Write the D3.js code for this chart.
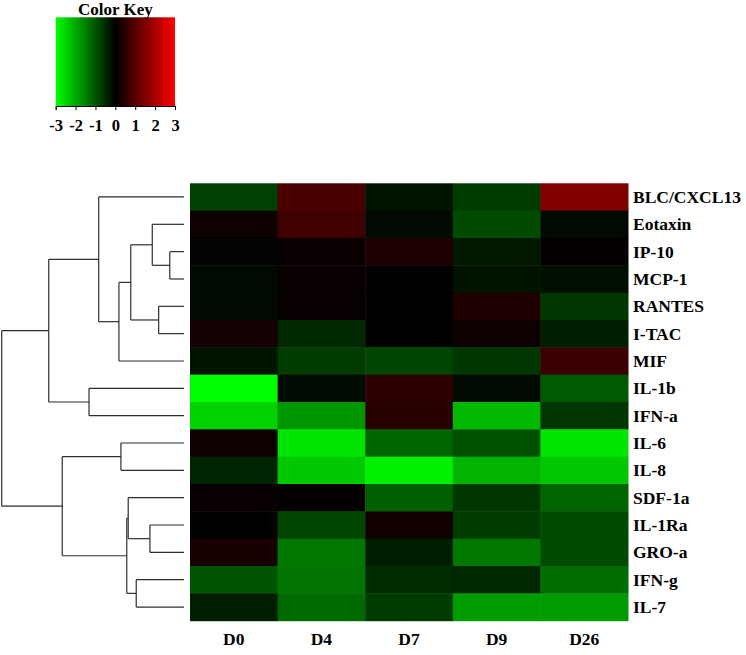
<!DOCTYPE html>
<html>
<head>
<meta charset="utf-8">
<script src="https://cdn.jsdelivr.net/npm/d3@7"></script>
<style>
  body { margin: 0; background: #fff; }
  svg { display: block; }
  text { font-family: "Liberation Serif", "Times New Roman", serif; font-weight: bold; fill: #000; }
</style>
</head>
<body>
<svg></svg>
<script>
const width = 746;
const height = 655;

// columns (time points) and rows (cytokines), in the order drawn
const days = ['D0', 'D4', 'D7', 'D9', 'D26'];
const cytokines = [
	'BLC/CXCL13', 'Eotaxin', 'IP-10', 'MCP-1', 'RANTES', 'I-TAC', 'MIF',
	'IL-1b', 'IFN-a', 'IL-6', 'IL-8', 'SDF-1a', 'IL-1Ra', 'GRO-a', 'IFN-g', 'IL-7'
];

// row z-scores, one array per column
const valD0  = [-0.75, 0.18, -0.03, -0.12, -0.12, 0.24, -0.24, -3.00, -2.47, 0.18, -0.41, 0.09, 0.03, 0.29, -1.00, -0.35];
const valD4  = [0.88, 0.76, 0.09, 0.09, 0.09, -0.47, -0.70, -0.12, -1.76, -2.70, -2.35, 0.05, -0.82, -1.41, -1.35, -1.24];
const valD7  = [-0.24, -0.12, 0.35, 0.02, 0.00, 0.00, -0.82, 0.53, 0.47, -1.18, -2.82, -1.12, 0.20, -0.35, -0.53, -0.70];
const valD9  = [-0.70, -0.88, -0.29, -0.24, 0.35, 0.18, -0.65, -0.12, -2.18, -0.94, -2.12, -0.65, -0.70, -1.41, -0.47, -1.82];
const valD26 = [1.50, -0.12, 0.05, -0.18, -0.65, -0.35, 0.70, -1.06, -0.65, -2.70, -2.35, -1.18, -0.88, -0.88, -1.29, -1.82];
const columnValues = [valD0, valD4, valD7, valD9, valD26];

// colour key
const keyTicks = [-3, -2, -1, 0, 1, 2, 3];

// row dendrogram: merge heights (leaf = 0)
const rowTree = { h: 10.0, children: [
	{ h: 7.42, children: [
		{ h: 4.68, children: [
			{ name: 'BLC/CXCL13' },
			{ h: 3.57, children: [
				{ h: 2.92, children: [
					{ h: 1.74, children: [
						{ name: 'Eotaxin' },
						{ h: 0.78, children: [{ name: 'IP-10' }, { name: 'MCP-1' }] }
					] },
					{ h: 1.39, children: [{ name: 'RANTES' }, { name: 'I-TAC' }] }
				] },
				{ name: 'MIF' }
			] }
		] },
		{ h: 5.21, children: [{ name: 'IL-1b' }, { name: 'IFN-a' }] }
	] },
	{ h: 6.68, children: [
		{ h: 3.46, children: [{ name: 'IL-6' }, { name: 'IL-8' }] },
		{ h: 3.14, children: [
			{ h: 3.06, children: [
				{ name: 'SDF-1a' },
				{ h: 1.87, children: [{ name: 'IL-1Ra' }, { name: 'GRO-a' }] }
			] },
			{ h: 2.62, children: [{ name: 'IFN-g' }, { name: 'IL-7' }] }
		] }
	] }
] };

const svg = d3.select('svg')
	.attr('width', width)
	.attr('height', height);

const color = d3.scaleLinear()
	.domain([-3, 0, 3])
	.range(['#00ff00', '#000000', '#ff0000'])
	.clamp(true);

// heatmap
const heat = { left: 190, right: 628, top: 183.3, bottom: 620.7 };

const xScale = d3.scaleBand()
	.domain(days)
	.range([heat.left, heat.right]);

const yScale = d3.scaleBand()
	.domain(cytokines)
	.range([heat.top, heat.bottom]);

const cells = [];
days.forEach((day, j) => {
	cytokines.forEach((name, i) => {
		cells.push({ day, name, value: columnValues[j][i] });
	});
});

svg.append('g')
	.selectAll('rect')
	.data(cells)
	.enter().append('rect')
	.attr('x', d => xScale(d.day))
	.attr('y', d => yScale(d.name))
	.attr('width', xScale.bandwidth() + 0.5)
	.attr('height', yScale.bandwidth() + 0.5)
	.attr('fill', d => color(d.value));

// row labels
svg.append('g')
	.selectAll('text')
	.data(cytokines)
	.enter().append('text')
	.attr('x', heat.right + 5)
	.attr('y', d => yScale(d) + yScale.bandwidth() / 2)
	.attr('dy', '0.35em')
	.attr('font-size', 17.5)
	.text(d => d);

// column labels
svg.append('g')
	.selectAll('text')
	.data(days)
	.enter().append('text')
	.attr('x', d => xScale(d) + xScale.bandwidth() / 2)
	.attr('y', 645)
	.attr('text-anchor', 'middle')
	.attr('font-size', 17.5)
	.text(d => d);

// dendrogram
const treeX = d3.scaleLinear()
	.domain([0, rowTree.h])
	.range([184, 1.7]);

const root = d3.hierarchy(rowTree);
root.eachAfter(node => {
	if (!node.children) {
		node.py = yScale(node.data.name) + yScale.bandwidth() / 2;
		node.px = treeX(0);
	} else {
		node.py = d3.mean(node.children, c => c.py);
		node.px = treeX(node.data.h);
	}
});

const segs = [];
root.each(node => {
	if (!node.children) return;
	const ys = node.children.map(c => c.py);
	segs.push([node.px, d3.min(ys), node.px, d3.max(ys)]);
	node.children.forEach(c => segs.push([node.px, c.py, c.px, c.py]));
});

svg.append('g')
	.selectAll('line')
	.data(segs)
	.enter().append('line')
	.attr('x1', d => d[0])
	.attr('y1', d => d[1])
	.attr('x2', d => d[2])
	.attr('y2', d => d[3])
	.attr('stroke', '#2e2e2e')
	.attr('stroke-width', 1.2);

// colour key
const key = { left: 55.7, right: 175, top: 17.3, bottom: 106 };
const keyX = d3.scaleLinear()
	.domain([-3, 3])
	.range([key.left, key.right]);

const grad = svg.append('defs').append('linearGradient')
	.attr('id', 'keyGrad')
	.attr('x1', '0%').attr('x2', '100%')
	.attr('y1', '0%').attr('y2', '0%');
keyTicks.forEach(t => {
	grad.append('stop')
		.attr('offset', `${(t + 3) / 6 * 100}%`)
		.attr('stop-color', color(t));
});

svg.append('rect')
	.attr('x', key.left)
	.attr('y', key.top)
	.attr('width', key.right - key.left)
	.attr('height', key.bottom - key.top)
	.attr('fill', 'url(#keyGrad)');

const keyAxis = d3.axisBottom(keyX)
	.tickValues(keyTicks)
	.tickSize(4)
	.tickFormat(d3.format('d'));

const keyAxisG = svg.append('g')
	.attr('transform', `translate(0, ${key.bottom})`)
	.call(keyAxis);
keyAxisG.select('.domain').attr('stroke', '#000');
keyAxisG.selectAll('.tick line').attr('stroke', '#000');
keyAxisG.selectAll('.tick text')
	.attr('font-family', '"Liberation Serif", serif')
	.attr('font-weight', 'bold')
	.attr('font-size', 16.5)
	.attr('y', 25)
	.attr('dy', 0)
	.text(d => d < 0 ? '-' + Math.abs(d) : d);

svg.append('text')
	.attr('x', (key.left + key.right) / 2)
	.attr('y', 15)
	.attr('text-anchor', 'middle')
	.attr('font-size', 17)
	.text('Color Key');
</script>
</body>
</html>
